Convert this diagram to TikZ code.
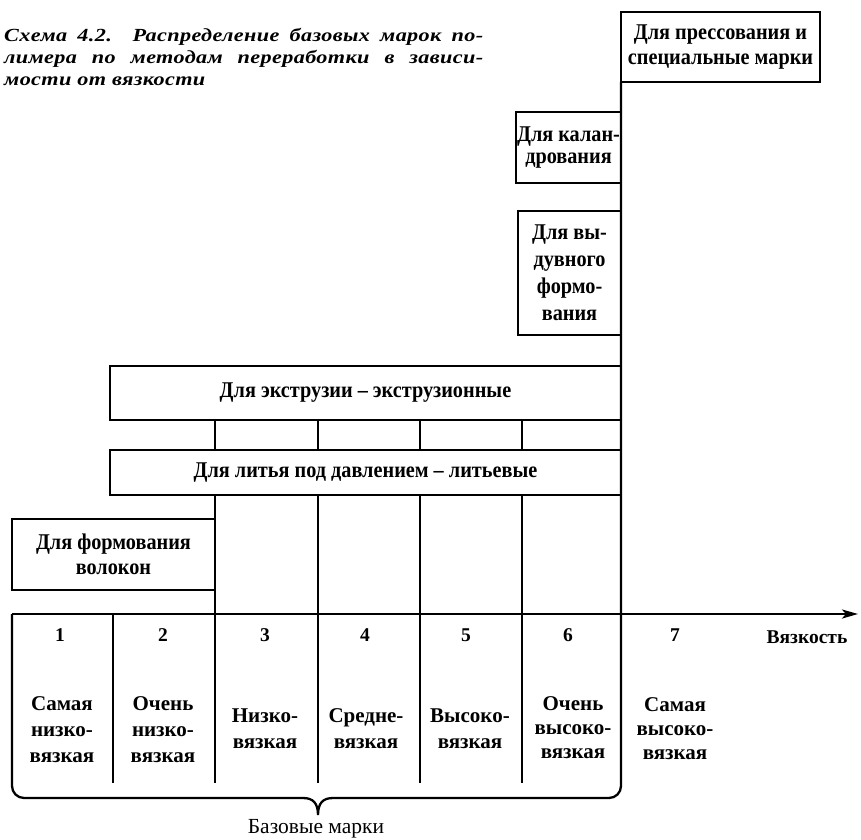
\documentclass[tikz,border=0pt]{standalone}
\usepackage{fontspec}
\setmainfont{Liberation Serif}
\newfontfamily\bxfam{Liberation Serif}[FakeStretch=0.9]
\newfontfamily\ttlfam{Liberation Serif}[FakeStretch=1.2, LetterSpace=2]
\usetikzlibrary{arrows.meta}

% bold box lettering with a given line distance
\newcommand\bxf[1]{\bxfam\fontsize{22.5}{#1}\selectfont\bfseries}
% grade names with a given line distance
\newcommand\lblf[1]{\fontsize{21}{#1}\selectfont\bfseries}
\newcommand\ttlfont{\ttlfam\fontsize{18.5}{22}\selectfont\bfseries\itshape}

\begin{document}
\begin{tikzpicture}[x=1pt,y=-1pt,
  frame/.style={draw, line width=2.3pt, rectangle, inner sep=0pt, outer sep=0pt, align=center, font=\bxf{26}},
  rule/.style={line width=2pt},
  lbl/.style={inner sep=0pt, align=center, font=\lblf{26}},
  num/.style={inner sep=0pt, font=\fontsize{19.5}{22}\selectfont\bfseries},
  ttl/.style={inner sep=0pt, anchor=base west, font=\ttlfont}]

\useasboundingbox (0,0) rectangle (861,839);

% caption
\node[ttl] (t1) at (4,41) {\makebox[479pt][s]{Схема 4.2. Распределение базовых марок по-}};
\node[ttl] (t2) at (4,63) {\makebox[479pt][s]{лимера по методам переработки в зависи-}};
\node[ttl] (t3) at (4,85) {мости от вязкости};

% processing-method boxes
\node[frame, minimum width=199pt, minimum height=70pt, font=\bxf{25}] (press) at (720.5,47)
  {Для прессования и\\специальные марки};
\node[frame, minimum width=105pt, minimum height=71pt, font=\bxf{22}] (cal) at (568.5,147.5)
  {Для калан-\\дрования};
\node[frame, minimum width=103pt, minimum height=124pt, font=\bxf{27}] (blow) at (569.5,273)
  {Для вы-\\дувного\\формо-\\вания};
\node[frame, minimum width=511pt, minimum height=54pt] (extr) at (365.5,393)
  {Для экструзии – экструзионные};
\node[frame, minimum width=511pt, minimum height=45pt] (inj) at (365.5,472.5)
  {Для литья под давлением – литьевые};
\node[frame, minimum width=203pt, minimum height=71pt, font=\bxf{25.5}] (fib) at (113.5,554.5)
  {Для формования\\волокон};

% named points of the grid
\coordinate (axL) at (12,614);
\coordinate (axR) at (858,614);
\coordinate (brL) at (303,798);
\coordinate (brM) at (318,815);
\coordinate (brR) at (333,798);

% viscosity axis
\draw[line width=2.4pt, -{Stealth[length=16pt,width=9pt,inset=4pt]}] (axL) -- (axR);

% column dividers
\foreach \cx in {215,318,420,522} {
  \draw[rule] (\cx,420) -- (\cx,450);
  \draw[rule] (\cx,495) -- (\cx,783);
}
\draw[rule] (113,614) -- (113,783);

% brace closing the table of base grades, with the main vertical on the right
\draw[rule, line width=2.3pt, rounded corners=12pt] (axL) -- (12,798) -- (brL);
\draw[rule, line width=2.3pt] (brL) .. controls (313,798) and (318,803) .. (brM)
  .. controls (318,803) and (323,798) .. (brR);
\draw[rule, line width=2.3pt, rounded corners=12pt] (brR) -- (621,798) -- (press.south west);

% grade numbers
\node[num] (n1) at (60,635) {1};
\node[num] (n2) at (163,635) {2};
\node[num] (n3) at (265,635) {3};
\node[num] (n4) at (365,635) {4};
\node[num] (n5) at (466,635) {5};
\node[num] (n6) at (568,635) {6};
\node[num] (n7) at (675,635) {7};
\node[num] (visc) at (807,637) {Вязкость};

% grade names
\node[lbl] (g1) at (62,730) {Самая\\низко-\\вязкая};
\node[lbl] (g2) at (163,730) {Очень\\низко-\\вязкая};
\node[lbl] (g3) at (265,729) {Низко-\\вязкая};
\node[lbl] (g4) at (366,729) {Средне-\\вязкая};
\node[lbl] (g5) at (470,729) {Высоко-\\вязкая};
\node[lbl, font=\lblf{24}] (g6) at (573,728) {Очень\\высоко-\\вязкая};
\node[lbl, font=\lblf{24}] (g7) at (675,729) {Самая\\высоко-\\вязкая};

\node[inner sep=0pt, font=\fontsize{21.5}{24}\selectfont] (base) at (316,829) {Базовые марки};
\end{tikzpicture}
\end{document}
